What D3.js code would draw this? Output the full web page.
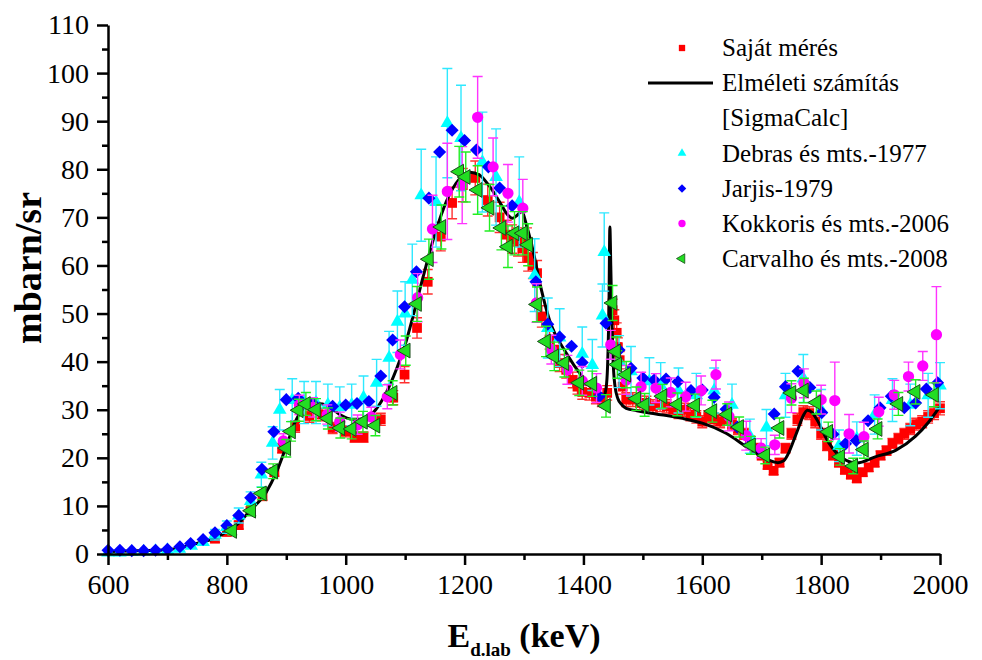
<!DOCTYPE html>
<html>
<head>
<meta charset="utf-8">
<script src="https://cdn.jsdelivr.net/npm/d3@7"></script>
<style>
  body { margin: 0; background: #fff; }
</style>
</head>
<body>
<div class="chart"></div>
<script>
// chart size
const width = 982;
const height = 660;
const margin = { top: 25, right: 42, bottom: 106, left: 108 };
const serif = '"Liberation Serif"';

// Saját mérés (energy keV, mbarn/sr)
const sajatE = [780, 800, 820, 840, 860, 880, 893, 915, 939, 960, 978, 1000, 1015, 1030, 1059, 1080, 1099, 1120, 1138, 1160, 1179, 1197, 1218, 1239, 1259, 1271, 1280, 1290, 1298, 1305, 1307, 1315, 1322, 1330, 1343, 1351, 1360, 1371, 1382, 1390, 1398, 1410, 1421, 1431, 1440, 1449, 1452, 1456, 1458, 1461, 1466, 1472, 1483, 1495, 1506, 1517, 1529, 1540, 1551, 1560, 1570, 1580, 1590, 1600, 1610, 1620, 1630, 1640, 1650, 1660, 1670, 1680, 1690, 1700, 1710, 1720, 1730, 1740, 1750, 1760, 1770, 1780, 1790, 1800, 1810, 1820, 1830, 1840, 1850, 1860, 1870, 1880, 1890, 1900, 1910, 1920, 1930, 1940, 1950, 1960, 1970, 1980, 1990, 2000];
const sajatV = [3.2, 4.6, 6.0, 9.0, 12.0, 17.0, 22.0, 26.5, 28.7, 29.0, 26.2, 25.5, 24.3, 24.3, 28.0, 32.5, 37.3, 47.0, 56.6, 66.0, 73.0, 76.7, 78.2, 73.6, 70.0, 66.4, 65.5, 64.9, 63.5, 64.9, 61.6, 60.0, 58.4, 49.4, 44.6, 42.5, 39.7, 38.3, 36.2, 34.8, 33.7, 33.5, 32.7, 32.1, 33.5, 50.7, 48.6, 46.0, 43.0, 40.3, 34.8, 32.1, 32.1, 31.4, 31.4, 30.7, 31.0, 30.7, 30.0, 29.5, 30.0, 29.0, 28.5, 27.5, 28.5, 28.0, 27.5, 28.0, 27.0, 26.0, 25.0, 23.5, 22.0, 20.5, 18.5, 17.3, 19.0, 22.0, 25.0, 28.0, 29.5, 29.3, 27.5, 25.0, 22.5, 20.5, 19.0, 17.5, 16.5, 15.7, 17.0, 18.0, 19.0, 20.5, 21.5, 23.0, 24.0, 25.0, 26.0, 27.0, 27.5, 28.5, 29.3, 30.3];

// Elméleti számítás [SigmaCalc]
const elmE = [600, 650, 700, 755, 780, 800, 820, 838, 866, 883, 900, 917, 933, 951, 961, 975, 990, 1012, 1034, 1051, 1068, 1085, 1100, 1113, 1130, 1150, 1170, 1190, 1209, 1225, 1240, 1260, 1272, 1281, 1289, 1296, 1305, 1315, 1328, 1343, 1371, 1398, 1420, 1430, 1435, 1439, 1441, 1443, 1444.5, 1446, 1448, 1450, 1453, 1458, 1465, 1472, 1490, 1511, 1540, 1567, 1600, 1640, 1679, 1710, 1727, 1737, 1746, 1755, 1763, 1770, 1777, 1785, 1793, 1813, 1835, 1860, 1891, 1926, 1959, 1980, 2000];
const elmV = [0.5, 0.7, 0.9, 2.4, 3.3, 4.7, 6.4, 8.9, 12.8, 16.9, 22.4, 28.0, 30.7, 31.3, 31.2, 30.4, 29.0, 28.0, 28.2, 30.1, 33.5, 38.3, 43.5, 49.3, 57.5, 66.5, 73.5, 77.8, 79.4, 78.8, 76.8, 73.0, 70.6, 69.8, 70.5, 71.2, 68.0, 63.2, 55.6, 48.6, 41.8, 36.9, 33.8, 32.6, 33.0, 35.5, 40.4, 52.0, 68.0, 60.0, 48.0, 40.0, 35.0, 32.3, 31.0, 30.3, 29.8, 29.3, 28.8, 28.2, 27.2, 25.1, 21.9, 19.6, 19.0, 19.4, 21.2, 24.0, 26.6, 28.8, 29.9, 29.4, 27.9, 23.1, 20.0, 18.9, 20.2, 21.6, 24.5, 27.3, 30.7];

// Debras és mts.-1977
const debrasE = [600, 620, 640, 660, 680, 700, 720, 740, 760, 780, 800, 820, 840, 858, 877, 889, 910, 930, 950, 970, 990, 1010, 1030, 1052, 1073, 1087, 1100, 1112, 1127, 1152, 1171, 1194, 1230, 1253, 1292, 1318, 1340, 1360, 1398, 1415, 1432, 1435, 1460, 1480, 1511, 1530, 1560, 1590, 1620, 1650, 1680, 1708, 1740, 1770, 1800, 1830, 1860, 1890, 1920, 1950, 1980, 2000];
const debrasV = [0.3, 0.3, 0.4, 0.5, 0.6, 0.8, 1.1, 1.7, 2.5, 4.0, 5.6, 8.0, 11.0, 16.5, 23.1, 30.0, 32.0, 31.5, 31.5, 31.0, 30.5, 31.0, 32.5, 35.6, 40.8, 48.3, 50.0, 57.0, 74.6, 73.2, 89.6, 86.5, 81.5, 78.4, 73.2, 58.0, 47.0, 45.0, 41.6, 39.3, 49.6, 62.8, 40.0, 38.0, 35.9, 35.0, 34.0, 33.0, 34.0, 31.0, 24.5, 26.3, 33.0, 36.5, 30.0, 22.5, 24.0, 29.0, 32.0, 31.0, 33.0, 35.0];

// Jarjis-1979
const jarjisE = [600, 620, 640, 660, 680, 700, 721, 739, 760, 780, 800, 820, 840, 859, 879, 900, 920, 945, 978, 1000, 1019, 1039, 1059, 1079, 1099, 1119, 1140, 1158, 1179, 1200, 1220, 1240, 1259, 1280, 1320, 1340, 1360, 1380, 1398, 1427, 1438, 1460, 1480, 1500, 1519, 1539, 1559, 1581, 1600, 1620, 1640, 1659, 1680, 1700, 1721, 1740, 1761, 1781, 1801, 1820, 1841, 1859, 1879, 1899, 1918, 1940, 1959, 1977, 1996];
const jarjisV = [0.8, 0.8, 0.7, 0.7, 0.8, 1.0, 1.5, 2.2, 3.0, 4.4, 5.9, 8.0, 11.7, 17.6, 25.4, 32.1, 32.4, 31.3, 30.7, 31.0, 31.3, 31.7, 37.0, 44.5, 51.4, 58.7, 74.0, 83.6, 88.1, 86.0, 84.0, 80.5, 76.1, 72.4, 56.6, 47.8, 45.1, 43.2, 39.8, 32.8, 48.0, 42.4, 38.6, 36.6, 36.2, 36.4, 35.8, 34.0, 34.1, 32.6, 30.1, 26.4, 22.8, 21.5, 29.1, 34.8, 38.0, 34.6, 29.4, 24.9, 22.9, 23.6, 27.7, 30.4, 32.8, 30.4, 31.4, 34.3, 35.6];

// Kokkoris és mts.-2006
const kokkorisE = [895, 922, 945, 969, 990, 1020, 1043, 1070, 1092, 1121, 1146, 1171, 1196, 1222, 1248, 1273, 1298, 1321, 1346, 1373, 1398, 1422, 1446, 1472, 1497, 1522, 1547, 1572, 1598, 1623, 1645, 1674, 1699, 1722, 1750, 1771, 1800, 1823, 1847, 1872, 1897, 1923, 1947, 1971, 1994];
const kokkorisV = [23.5, 31.0, 30.5, 29.0, 27.5, 26.9, 28.5, 32.7, 41.5, 53.3, 67.6, 75.4, 76.7, 90.8, 80.5, 75.0, 71.9, 52.2, 42.5, 38.3, 36.0, 34.5, 43.5, 36.2, 34.8, 34.5, 33.6, 32.7, 34.0, 37.3, 28.6, 24.6, 22.0, 22.7, 32.4, 35.5, 32.1, 31.9, 25.0, 24.4, 29.6, 33.1, 36.9, 39.1, 45.6];
const kokkorisErr = [1.5, 2, 2, 2, 2, 2, 2, 2.5, 3, 5, 7, 10, 8, 8.5, 6, 6, 6, 4, 3, 3, 3, 3, 3, 3, 3, 3, 3, 3, 3, 3, 3, 3, 2, 2, 3, 3, 3, 8, 4, 3, 3, 3, 3, 3, 10];

// Carvalho és mts.-2008
const carvalhoE = [809, 841, 859, 878, 900, 908, 921, 933, 950, 970, 991, 1010, 1029, 1050, 1079, 1101, 1120, 1140, 1161, 1191, 1202, 1222, 1242, 1262, 1273, 1284, 1298, 1307, 1322, 1337, 1351, 1368, 1393, 1415, 1438, 1449, 1455, 1457, 1472, 1489, 1503, 1533, 1558, 1588, 1617, 1642, 1662, 1682, 1706, 1730, 1750, 1771, 1792, 1812, 1832, 1854, 1872, 1895, 1930, 1959, 1990];
const carvalhoV = [4.8, 9.0, 12.6, 17.2, 22.0, 25.5, 29.9, 31.2, 30.0, 28.2, 26.2, 26.0, 27.5, 26.7, 33.5, 42.3, 52.0, 61.3, 68.0, 79.5, 78.4, 75.7, 72.0, 67.8, 63.9, 66.7, 66.7, 64.3, 51.9, 44.2, 41.1, 39.7, 35.6, 35.4, 30.8, 52.2, 42.1, 39.4, 37.3, 32.3, 31.0, 32.8, 31.1, 30.9, 29.7, 29.0, 26.4, 22.6, 20.5, 26.2, 33.5, 34.0, 31.5, 25.4, 20.2, 18.3, 21.7, 26.0, 31.2, 33.7, 33.1];

// axis ticks
const xTicks = [600, 800, 1000, 1200, 1400, 1600, 1800, 2000];
const xMinor = [700, 900, 1100, 1300, 1500, 1700, 1900];
const yTicks = [0, 10, 20, 30, 40, 50, 60, 70, 80, 90, 100, 110];
const yMinor = [5, 15, 25, 35, 45, 55, 65, 75, 85, 95, 105];

const legendLabels = ["Saját mérés", "Elméleti számítás", "[SigmaCalc]", "Debras és mts.-1977", "Jarjis-1979", "Kokkoris és mts.-2006", "Carvalho és mts.-2008"];

const zip = (es, vs, errs) => es.map((e, i) => ({ e: e, v: vs[i], err: errs ? errs[i] : 0 }));

const series = [
  { name: "sajat", data: zip(sajatE, sajatV, sajatV.map(v => Math.max(0.8, v * 0.045))),
    color: "#ff0000", errColor: "#ff3030", shape: d3.symbolSquare, size: 95, rot: 0, stroke: "none" },
  { name: "debras", data: zip(debrasE, debrasV, debrasV.map(v => v < 3 ? 0 : v * 0.12 + 0.6)),
    color: "#00ffff", errColor: "#2ee8ff", shape: d3.symbolTriangle, size: 80, rot: 0, stroke: "none" },
  { name: "jarjis", data: zip(jarjisE, jarjisV, null),
    color: "#0000ff", errColor: "#0000ff", shape: d3.symbolSquare, size: 85, rot: 45, stroke: "none" },
  { name: "kokkoris", data: zip(kokkorisE, kokkorisV, kokkorisErr),
    color: "#ff00ff", errColor: "#ff33ff", shape: d3.symbolCircle, size: 100, rot: 0, stroke: "none" },
  { name: "carvalho", data: zip(carvalhoE, carvalhoV, carvalhoV.map(v => v * 0.06 + 0.5)),
    color: "#22dd22", errColor: "#22ee22", shape: d3.symbolTriangle, size: 95, rot: -90, stroke: "#1a4d1a" }
];

const svg = d3.select('.chart')
  .append('svg')
  .attr('width', width)
  .attr('height', height)
  .style('font-family', serif);

const x = d3.scaleLinear()
  .domain([600, 2000])
  .range([margin.left, width - margin.right]);

const y = d3.scaleLinear()
  .domain([0, 110])
  .range([height - margin.bottom, margin.top]);

function drawSeries(s) {
  const g = svg.append('g');
  const withErr = s.data.filter(d => d.err > 0);
  g.selectAll('path.err')
    .data(withErr)
    .join('path')
      .attr('class', 'err')
      .attr('fill', 'none')
      .attr('stroke', s.errColor)
      .attr('stroke-width', 1.4)
      .attr('d', d => {
        const cx = x(d.e), y1 = y(d.v - d.err), y2 = y(d.v + d.err);
        return `M${cx},${y1}V${y2}M${cx - 5},${y1}H${cx + 5}M${cx - 5},${y2}H${cx + 5}`;
      });
  g.selectAll('path.pt')
    .data(s.data)
    .join('path')
      .attr('class', 'pt')
      .attr('d', d3.symbol().type(s.shape).size(s.size))
      .attr('transform', d => `translate(${x(d.e)},${y(d.v)}) rotate(${s.rot})`)
      .attr('fill', s.color)
      .attr('stroke', s.stroke)
      .attr('stroke-width', 1);
}

// draw order follows the legend
drawSeries(series[0]);

const line = d3.line()
  .x(d => x(d.e))
  .y(d => y(d.v))
  .curve(d3.curveMonotoneX);

svg.append('path')
  .datum(zip(elmE, elmV, null))
  .attr('fill', 'none')
  .attr('stroke', '#000')
  .attr('stroke-width', 3)
  .attr('stroke-linejoin', 'round')
  .attr('d', line);

series.slice(1).forEach(drawSeries);

// axes
svg.append('g')
  .attr('transform', `translate(0, ${y(0)})`)
  .call(d3.axisBottom(x).tickValues(xTicks).tickSize(11).tickSizeOuter(0).tickPadding(9).tickFormat(d3.format('d')));
svg.append('g')
  .attr('transform', `translate(0, ${y(0)})`)
  .call(d3.axisBottom(x).tickValues(xMinor).tickSize(6).tickFormat(''))
  .call(g => g.select('.domain').remove());

svg.append('g')
  .attr('transform', `translate(${x(600)}, 0)`)
  .call(d3.axisLeft(y).tickValues(yTicks).tickSize(11).tickSizeOuter(0).tickPadding(8));
svg.append('g')
  .attr('transform', `translate(${x(600)}, 0)`)
  .call(d3.axisLeft(y).tickValues(yMinor).tickSize(6).tickFormat(''))
  .call(g => g.select('.domain').remove());

svg.selectAll('.domain, .tick line')
  .attr('stroke', '#000')
  .attr('stroke-width', 2.5);
svg.selectAll('.tick text')
  .attr('fill', '#000')
  .style('font-family', serif)
  .style('font-size', '28px');

// axis titles
svg.append('text')
  .attr('transform', 'translate(41, 268) rotate(-90)')
  .attr('text-anchor', 'middle')
  .style('font-family', serif)
  .style('font-size', '38px')
  .style('font-weight', 'bold')
  .text('mbarn/sr');

const xt = svg.append('text')
  .attr('x', 524)
  .attr('y', 647)
  .attr('text-anchor', 'middle')
  .style('font-family', serif)
  .style('font-size', '34px')
  .style('font-weight', 'bold');
xt.append('tspan').text('E');
xt.append('tspan').attr('dy', 9).style('font-size', '19px').text('d.lab');
xt.append('tspan').attr('dy', -9).text(' (keV)');

// legend
const legend = svg.append('g')
  .attr('transform', 'translate(682, 48)')
  .style('font-family', serif)
  .style('font-size', '25px');
const rowH = 35.1;
const legendMarks = [
  { row: 0, s: series[0] },
  { row: 3, s: series[1] },
  { row: 4, s: series[2] },
  { row: 5, s: series[3] },
  { row: 6, s: series[4] }
];
legend.selectAll('path.mk')
  .data(legendMarks)
  .join('path')
    .attr('class', 'mk')
    .attr('d', d => d3.symbol().type(d.s.shape).size(d.s.size * 0.42)())
    .attr('transform', d => `translate(0, ${d.row * rowH}) rotate(${d.s.rot})`)
    .attr('fill', d => d.s.color)
    .attr('stroke', d => d.s.stroke)
    .attr('stroke-width', 0.8);
legend.append('line')
  .attr('x1', -34).attr('x2', 31)
  .attr('y1', rowH).attr('y2', rowH)
  .attr('stroke', '#000')
  .attr('stroke-width', 3);
legend.selectAll('text')
  .data(legendLabels)
  .join('text')
    .attr('x', 40)
    .attr('y', (d, i) => i * rowH)
    .attr('dy', '0.33em')
    .text(d => d);
</script>
</body>
</html>
